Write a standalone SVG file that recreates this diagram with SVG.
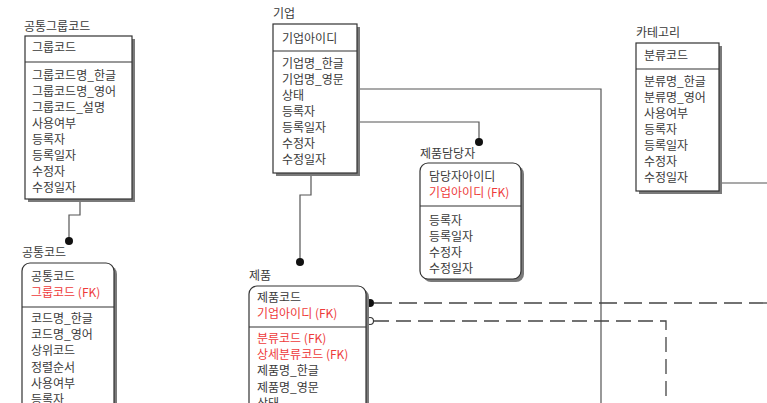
<svg xmlns="http://www.w3.org/2000/svg" width="767" height="403" viewBox="0 0 767 403">
<style>
text{font-family:"Noto Sans CJK KR","Noto Sans",sans-serif;font-size:12px;fill:#3a3a3a}
.t{fill:#333}
.fk{fill:#ee3b3b}
.box{fill:#fff;stroke:#333;stroke-width:1.2}
.sh{fill:#7a7a7a}
.sep{stroke:#333;stroke-width:1.2}
.c{fill:none;stroke:#555;stroke-width:1.2}
.d1{fill:none;stroke:#444;stroke-width:1.3;stroke-dasharray:18 7}
.d2{fill:none;stroke:#444;stroke-width:1.3;stroke-dasharray:15 7}
</style>
<rect width="767" height="403" fill="#fff"/>

<g id="connectors">
<polyline class="c" points="80,202 80,215 69,215 69,241"/>
<circle cx="69" cy="241" r="4" fill="#111"/>
<polyline class="c" points="357,89 601,89 601,403"/>
<polyline class="c" points="357,122 479,122 479,142"/>
<circle cx="479" cy="142" r="4" fill="#111"/>
<polyline class="c" points="311,176 311,195 300,195 300,262"/>
<circle cx="300" cy="262" r="4" fill="#111"/>
<polyline class="c" points="722,183 767,183"/>
<polyline class="d1" points="374,303 767,303"/>
<circle cx="370" cy="303" r="4" fill="#111"/>
<polyline class="d2" points="374,321 666,321 666,403"/>
<circle cx="370" cy="321" r="3.5" fill="#fff" stroke="#333" stroke-width="1.1"/>
</g>

<g id="공통그룹코드">
<text x="24" y="31">공통그룹코드</text>
<rect class="sh" x="28" y="39" width="107" height="163"/>
<rect class="box" x="25" y="36" width="107" height="163"/>
<line class="sep" x1="25" y1="62" x2="132" y2="62"/>
<text x="32" y="52">그룹코드</text>
<text x="32" y="80">그룹코드명_한글</text>
<text x="32" y="96">그룹코드명_영어</text>
<text x="32" y="112">그룹코드_설명</text>
<text x="32" y="128">사용여부</text>
<text x="32" y="144">등록자</text>
<text x="32" y="160">등록일자</text>
<text x="32" y="176">수정자</text>
<text x="32" y="192">수정일자</text>
</g>

<g id="공통코드">
<text x="22" y="257">공통코드</text>
<rect class="sh" x="25" y="266" width="92" height="160" rx="8"/>
<rect class="box" x="22" y="263" width="92" height="160" rx="8"/>
<line class="sep" x1="22" y1="307" x2="114" y2="307"/>
<text x="31" y="281">공통코드</text>
<text x="31" y="297" class="fk">그룹코드 (FK)</text>
<text x="31" y="323">코드명_한글</text>
<text x="31" y="339">코드명_영어</text>
<text x="31" y="355">상위코드</text>
<text x="31" y="372">정렬순서</text>
<text x="31" y="388">사용여부</text>
<text x="31" y="404">등록자</text>
</g>

<g id="기업">
<text x="273" y="18">기업</text>
<rect class="sh" x="276" y="27" width="84" height="149"/>
<rect class="box" x="273" y="24" width="84" height="149"/>
<line class="sep" x1="273" y1="51" x2="357" y2="51"/>
<text x="282" y="43">기업아이디</text>
<text x="282" y="68">기업명_한글</text>
<text x="282" y="84">기업명_영문</text>
<text x="282" y="100">상태</text>
<text x="282" y="116">등록자</text>
<text x="282" y="132">등록일자</text>
<text x="282" y="148">수정자</text>
<text x="282" y="164">수정일자</text>
</g>

<g id="제품담당자">
<text x="420" y="158">제품담당자</text>
<rect class="sh" x="423" y="166" width="101" height="116" rx="8"/>
<rect class="box" x="420" y="163" width="101" height="116" rx="8"/>
<line class="sep" x1="420" y1="206" x2="521" y2="206"/>
<text x="429" y="181">담당자아이디</text>
<text x="429" y="197" class="fk">기업아이디 (FK)</text>
<text x="429" y="225">등록자</text>
<text x="429" y="241">등록일자</text>
<text x="429" y="257">수정자</text>
<text x="429" y="273">수정일자</text>
</g>

<g id="제품">
<text x="249" y="280">제품</text>
<rect class="sh" x="252" y="289" width="117" height="140" rx="8"/>
<rect class="box" x="249" y="286" width="117" height="140" rx="8"/>
<line class="sep" x1="249" y1="327" x2="366" y2="327"/>
<text x="257" y="302">제품코드</text>
<text x="257" y="318" class="fk">기업아이디 (FK)</text>
<text x="257" y="343" class="fk">분류코드 (FK)</text>
<text x="257" y="359" class="fk">상세분류코드 (FK)</text>
<text x="257" y="375">제품명_한글</text>
<text x="257" y="392">제품명_영문</text>
<text x="257" y="408">상태</text>
</g>

<g id="카테고리">
<text x="636" y="37">카테고리</text>
<rect class="sh" x="639" y="46" width="83" height="148"/>
<rect class="box" x="636" y="43" width="83" height="148"/>
<line class="sep" x1="636" y1="69" x2="719" y2="69"/>
<text x="644" y="60">분류코드</text>
<text x="644" y="86">분류명_한글</text>
<text x="644" y="102">분류명_영어</text>
<text x="644" y="118">사용여부</text>
<text x="644" y="134">등록자</text>
<text x="644" y="150">등록일자</text>
<text x="644" y="166">수정자</text>
<text x="644" y="182">수정일자</text>
</g>
</svg>
